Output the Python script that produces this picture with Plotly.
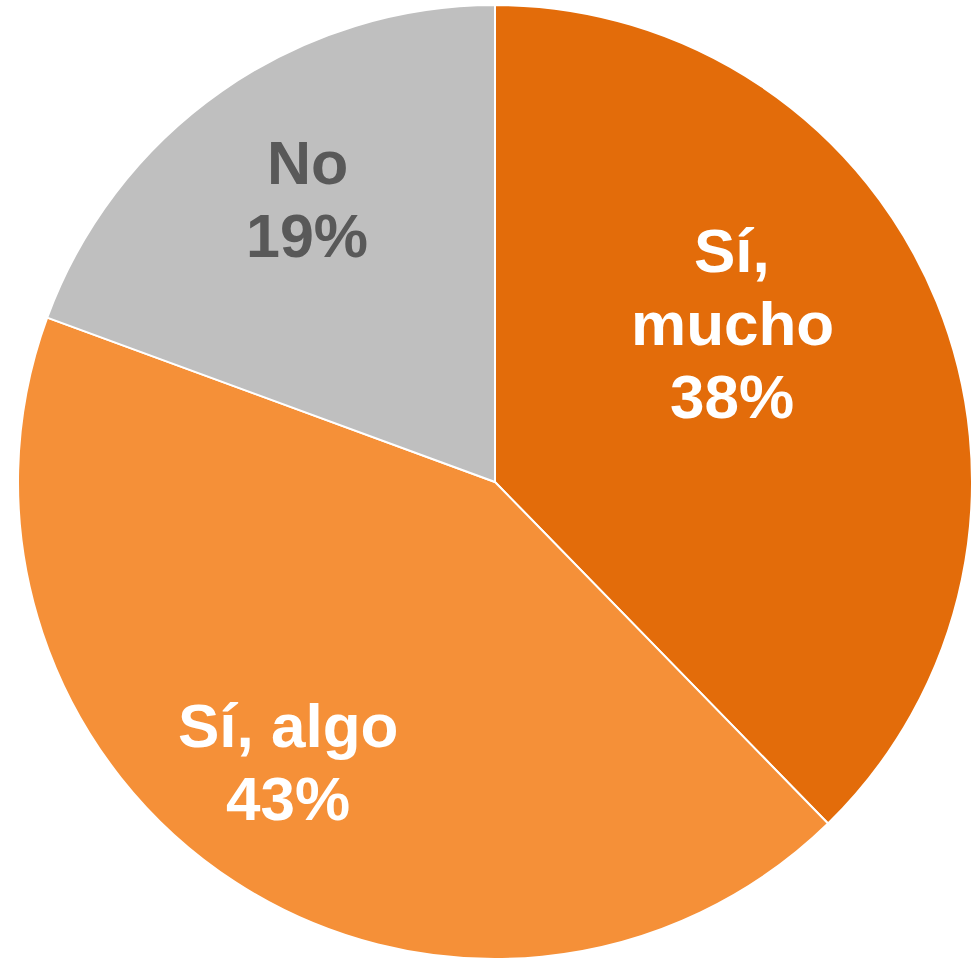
import plotly.graph_objects as go

# data (slice shares read from the slice edges; labels show rounded %)
labels = ["Sí, mucho", "Sí, algo", "No"]
label_lines = [["Sí,", "mucho"], ["Sí, algo"], ["No"]]
values = [37.7, 42.9, 19.4]
colors = ["#E36C0A", "#F59038", "#BFBFBF"]
text_colors = ["#FFFFFF", "#FFFFFF", "#595959"]

# label placement (pixels from top-left): centre x, first line y, line step
W, H = 974, 960
label_pos = [(732, 250), (288, 725), (307, 163)]
line_step = 73
font_sizes = [62, 62, 61]

fig = go.Figure()
fig.add_trace(go.Pie(
    labels=labels,
    values=values,
    sort=False,
    direction="clockwise",
    rotation=0,
    textinfo="none",
    marker=dict(colors=colors, line=dict(color="#FFFFFF", width=2)),
    domain=dict(x=[18 / W, 972 / W], y=[1 / H, 955 / H]),
    showlegend=False,
    hoverinfo="label+percent",
))

# slice labels, one annotation per line to get the tighter line spacing
total = sum(values)
for i, lines in enumerate(label_lines):
    pct = "{:.0f}%".format(100 * values[i] / total)
    cx, cy = label_pos[i]
    for j, line in enumerate(lines + [pct]):
        fig.add_annotation(
            x=cx / W, y=1 - (cy + j * line_step) / H,
            xref="paper", yref="paper",
            text="<b>" + line + "</b>",
            showarrow=False,
            xanchor="center", yanchor="middle",
            font=dict(family="Liberation Sans, Arial, sans-serif",
                      size=font_sizes[i], color=text_colors[i]),
        )

fig.update_layout(
    width=W, height=H,
    margin=dict(l=0, r=0, t=0, b=0),
    paper_bgcolor="white",
    plot_bgcolor="white",
)
fig.write_html("out.html", config={"displayModeBar": False},
               post_script="document.body.style.margin='0';")
